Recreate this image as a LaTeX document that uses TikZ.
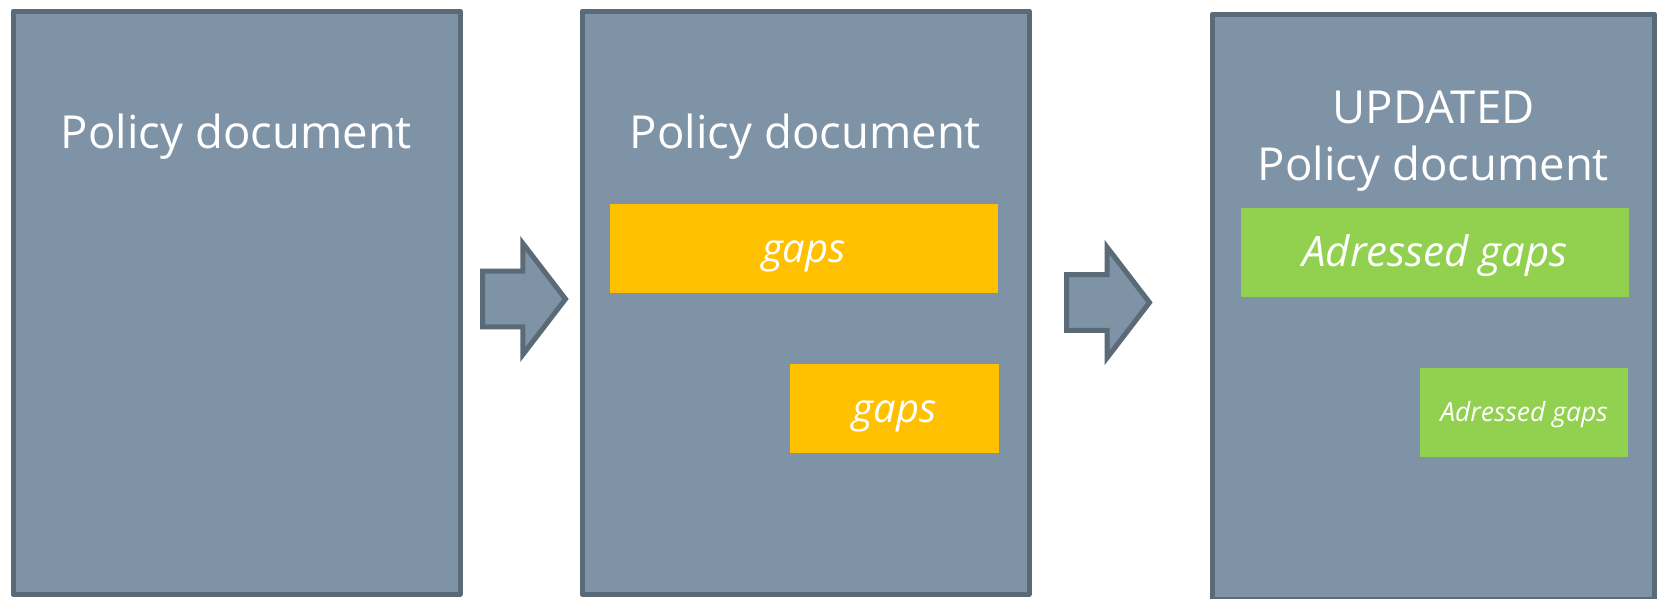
\documentclass[tikz,border=0pt]{standalone}
\usepackage{fontspec}
\setmainfont{Open Sans}
\usetikzlibrary{shapes.arrows,positioning}
\definecolor{slate}{RGB}{127,147,167}
\definecolor{slateedge}{RGB}{91,106,119}
\definecolor{gapyellow}{RGB}{255,192,0}
\definecolor{fixgreen}{RGB}{146,208,80}

\begin{document}
\begin{tikzpicture}
  [x=1pt, y=-1pt,
  docbox/.style={rectangle, draw=slateedge, fill=slate, line width=5pt, line join=round, outer sep=0pt, minimum width=447pt, minimum height=583pt},
  title/.style={text=white, font=\fontsize{45.5}{57}\selectfont, align=center, anchor=base},
  gapbox/.style={rectangle, fill=gapyellow, text=white, minimum height=89pt, inner sep=0pt, text height=40pt, text depth=12pt, font=\fontsize{40}{48}\selectfont\itshape},
  fixbox/.style={gapbox, fill=fixgreen, font=\fontsize{42}{50}\selectfont\itshape},
  flow/.style={single arrow, draw=slateedge, fill=slate, line width=5pt, outer sep=0pt, minimum height=83pt, inner xsep=0pt, inner ysep=25.4pt, single arrow head extend=27.5pt, single arrow tip angle=105, anchor=tail}]
  \useasboundingbox (0,0) rectangle (1661,598);

  % Original document
  \node (doc1) [docbox] at (236.5,302.5) {};
  \node (doc1-title) [title] at ([yshift=-137pt]doc1.north) {Policy document};
  \node (step1) [flow] at (482.5,299) {};

  % Gaps found
  \node (doc2) [docbox] at (805.5,302.5) {};
  \node (doc2-title) [title] at ([yshift=-137.5pt]doc2.north) {Policy document};
  \node (gap-a) [gapbox, minimum width=388pt] at (804,248.5) {gaps};
  \node (gap-b) [gapbox, minimum width=209pt] at (894.5,408.5) {gaps};
  \node (step2) [flow] at (1066.5,302.5) {};

  % Updated document
  \node (doc3) [docbox, minimum width=442pt, minimum height=585pt] at (1433.5,306.5) {};
  \node (doc3-title) [title] at ([yshift=-166pt]doc3.north) {UPDATED\\Policy document};
  \node (fix-a) [fixbox, minimum width=388pt] at (1435,252.5) {Adressed gaps};
  \node (fix-b) [fixbox, minimum width=208pt, text height=26pt, text depth=7.6pt, font=\fontsize{26.5}{32}\selectfont\itshape] at (1524,412.5) {Adressed gaps};
\end{tikzpicture}
\end{document}
